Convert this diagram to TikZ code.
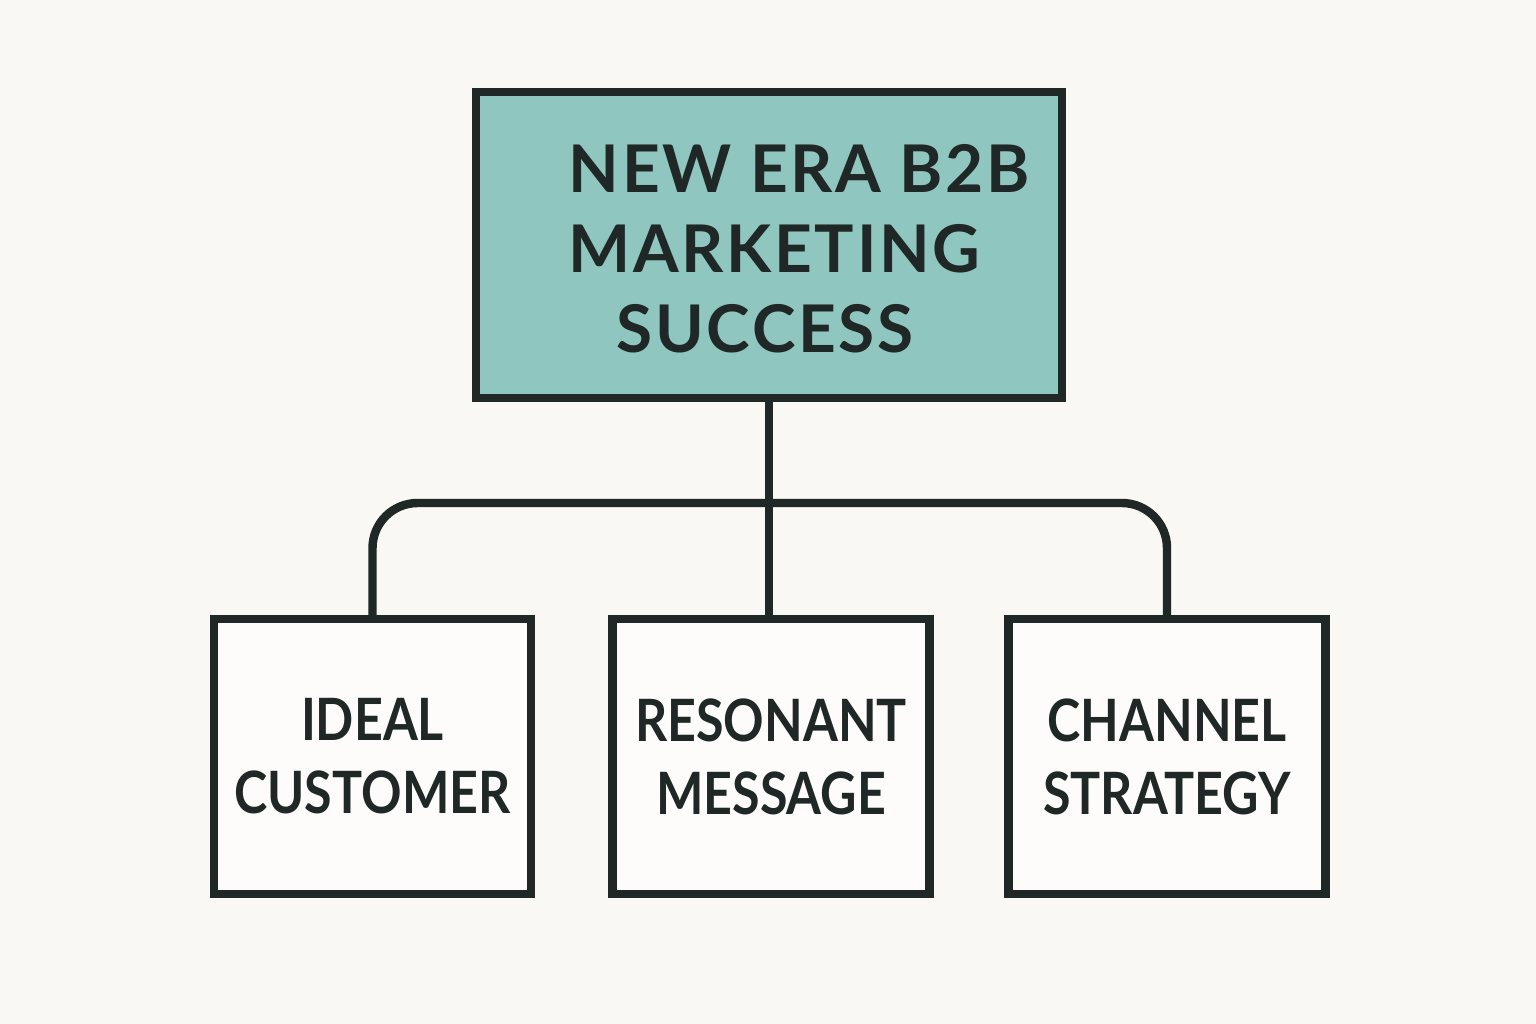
\documentclass[tikz,border=0pt]{standalone}
\usepackage{fontspec}
\setmainfont{Lato}
\definecolor{bgc}{HTML}{F9F8F4}
\definecolor{ink}{HTML}{1F2826}
\definecolor{teal}{HTML}{90C6C0}
\begin{document}
\begin{tikzpicture}[x=0.01cm,y=-0.01cm,
  box/.style={draw=ink,line width=2.4pt,outer sep=0pt,inner sep=0pt,align=center,text=ink},
  topbox/.style={box,fill=teal,minimum width=5.86cm,minimum height=3.06cm},
  toptext/.style={inner sep=0pt,text=ink,align=left,
    font=\fontsize{18.7}{22.8}\selectfont\bfseries\addfontfeatures{LetterSpace=4}},
  subbox/.style={box,fill=white!60!bgc,minimum width=3.17cm,minimum height=2.75cm,
    font=\fontsize{16.6}{20.8}\selectfont\bfseries\addfontfeatures{FakeStretch=0.86}},
  link/.style={draw=ink,line width=2.4pt}]
\fill[bgc] (0,0) rectangle (1536,1024);
\useasboundingbox (0,0) rectangle (1536,1024);
\node[topbox] (top) at (769,245) {};
\node[toptext,anchor=west] (title) at (568,249) {NEW ERA B2B\\MARKETING\\\hspace*{0.48cm}SUCCESS};
\node[subbox] (ideal) at (372.5,756.5) {IDEAL\\CUSTOMER};
\node[subbox] (reso) at (771,756.5) {RESONANT\\MESSAGE};
\node[subbox] (chan) at (1167,756.5) {CHANNEL\\STRATEGY};
\coordinate (j) at (770,503);
\draw[link] (top.south) -- (top.south |- reso.north);
\draw[link,rounded corners=0.45cm] (ideal.north) |- (j) -| (chan.north);
\end{tikzpicture}
\end{document}
